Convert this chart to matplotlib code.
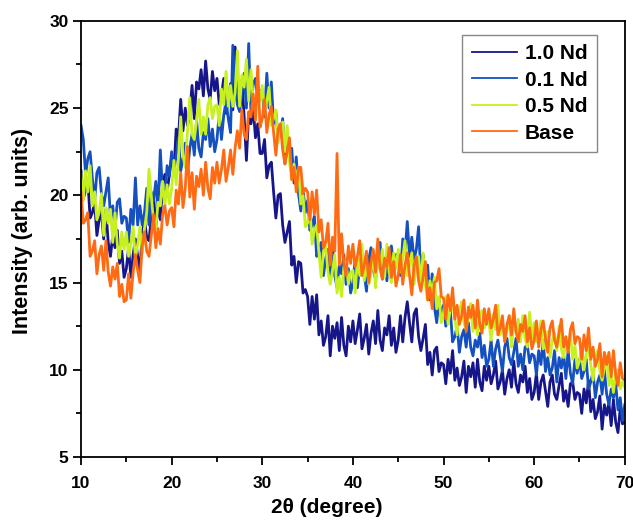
import numpy as np
import matplotlib.pyplot as plt

plt.rcParams['font.family'] = ['Liberation Sans', 'DejaVu Sans']
plt.rcParams['font.weight'] = 'bold'

# 2theta grid, 0.25 degree step (10 .. 70)
two_theta = np.linspace(10, 70, 241)

# one row = 5 degrees
nd_10 = [21.4, 19.8, 20.3, 20.9, 18.7, 19.0, 19.6, 17.7, 18.6, 19.1, 17.5, 19.2, 17.3, 16.5, 17.7, 17.0, 18.0, 16.1, 16.8, 15.3,
         15.8, 17.0, 15.3, 16.6, 17.5, 16.5, 15.7, 17.8, 18.6, 17.6, 17.4, 18.7, 20.0, 18.2, 19.4, 18.6, 20.6, 21.2, 20.2, 21.2,
         22.2, 21.4, 23.8, 23.3, 25.5, 23.7, 25.0, 24.0, 24.7, 26.3, 24.4, 26.5, 26.1, 27.2, 25.7, 27.7, 26.1, 25.5, 27.1, 26.0,
         26.7, 25.2, 25.8, 26.7, 24.7, 25.4, 26.4, 24.9, 28.5, 26.8, 25.1, 26.6, 24.5, 22.0, 24.7, 24.1, 25.0, 23.3, 24.1, 22.4,
         22.4, 23.2, 21.0, 21.7, 21.9, 20.2, 18.7, 20.0, 20.1, 18.3, 17.3, 17.9, 18.5, 16.0, 16.5, 15.0, 16.2, 16.1, 14.4, 14.6,
         14.2, 12.6, 14.2, 12.9, 14.3, 12.0, 12.8, 11.4, 11.9, 13.1, 10.8, 12.5, 11.8, 12.7, 11.1, 13.0, 11.4, 10.8, 12.5, 11.6,
         12.8, 11.5, 12.3, 13.2, 11.2, 11.8, 12.6, 10.9, 12.1, 12.8, 11.5, 13.4, 11.7, 11.1, 12.4, 12.0, 13.1, 11.4, 12.4, 11.0,
         11.7, 13.1, 11.6, 13.0, 13.9, 12.7, 11.6, 13.2, 13.5, 11.9, 11.1, 11.8, 12.6, 10.3, 11.0, 9.7, 11.1, 11.3, 9.9, 10.4,
         10.3, 9.2, 10.6, 9.8, 11.1, 9.4, 10.1, 9.1, 9.6, 10.5, 8.7, 10.2, 9.6, 10.4, 9.0, 10.6, 9.3, 8.8, 10.2, 9.4,
         10.2, 9.2, 9.7, 10.5, 8.9, 9.3, 10.0, 8.6, 9.5, 10.0, 9.0, 10.5, 9.2, 8.7, 9.7, 9.3, 10.2, 8.7, 9.5, 8.3,
         8.7, 9.8, 8.3, 9.3, 9.7, 8.8, 7.9, 9.3, 9.7, 8.6, 8.3, 9.1, 9.8, 8.2, 8.8, 7.9, 9.2, 9.3, 8.3, 8.7,
         8.6, 7.5, 8.9, 8.1, 9.4, 7.6, 8.3, 7.2, 7.6, 8.5, 6.6, 8.0, 7.4, 8.1, 6.8, 8.3, 7.0, 6.4, 7.8, 6.9,
         7.0]

nd_01 = [24.0, 23.2, 21.2, 22.1, 22.5, 21.0, 19.7, 21.3, 21.6, 20.1, 19.4, 20.2, 21.0, 18.7, 19.4, 18.1, 19.6, 19.8, 18.4, 18.8,
         18.7, 17.3, 19.2, 18.3, 21.0, 18.3, 19.4, 18.3, 19.0, 20.4, 18.3, 20.2, 19.7, 20.8, 19.3, 22.6, 20.1, 19.8, 21.7, 21.1,
         22.5, 21.4, 22.3, 23.3, 21.4, 22.1, 23.0, 21.4, 22.7, 23.5, 22.3, 24.3, 22.7, 22.2, 23.6, 23.2, 24.4, 22.8, 23.8, 22.5,
         23.2, 24.7, 23.2, 24.6, 25.4, 24.4, 23.6, 28.6, 26.3, 25.2, 24.8, 25.9, 27.0, 25.0, 28.7, 24.8, 26.4, 26.7, 25.4, 26.0,
         26.0, 24.5, 27.0, 25.0, 26.5, 24.1, 24.8, 23.2, 23.5, 24.4, 21.8, 23.2, 22.1, 22.7, 20.7, 22.2, 20.1, 19.1, 20.4, 19.0,
         19.7, 18.0, 18.3, 18.8, 16.5, 16.8, 17.3, 15.4, 16.4, 16.9, 15.4, 17.2, 15.4, 14.7, 16.0, 15.5, 16.6, 14.9, 15.8, 14.4,
         15.0, 16.3, 14.7, 15.9, 16.6, 15.5, 14.5, 16.3, 17.0, 15.7, 15.2, 16.3, 17.3, 15.2, 16.2, 15.1, 16.7, 17.1, 15.9, 16.6,
         16.6, 15.4, 17.5, 16.7, 18.5, 16.5, 17.6, 16.3, 16.9, 18.2, 15.4, 16.6, 15.4, 16.0, 14.0, 15.5, 13.6, 12.7, 14.1, 13.0,
         13.7, 12.5, 12.8, 13.4, 11.6, 11.9, 12.5, 11.0, 11.9, 12.3, 11.3, 12.7, 11.3, 10.8, 11.7, 11.3, 12.1, 10.7, 11.4, 10.2,
         10.6, 11.7, 10.2, 11.2, 11.7, 10.8, 9.9, 11.3, 11.8, 10.7, 10.3, 11.0, 11.8, 10.2, 10.9, 10.0, 11.3, 11.4, 10.4, 10.9,
         10.8, 9.7, 11.1, 10.3, 11.7, 9.9, 10.7, 9.7, 10.1, 11.1, 9.3, 10.7, 10.1, 10.9, 9.5, 11.1, 9.8, 9.2, 10.6, 9.8,
         10.6, 9.5, 9.9, 10.6, 8.9, 9.3, 9.9, 8.4, 9.3, 9.7, 8.6, 10.0, 8.6, 8.0, 8.9, 8.4, 9.2, 7.7, 8.4, 7.1,
         8.0]

nd_05 = [21.2, 19.7, 21.4, 20.2, 21.7, 19.4, 20.2, 18.6, 19.0, 20.1, 17.7, 19.3, 18.4, 19.2, 17.3, 19.0, 17.2, 16.4, 17.9, 16.9,
         17.9, 16.5, 17.2, 18.2, 16.4, 17.2, 18.2, 16.7, 18.1, 19.0, 21.5, 20.0, 18.5, 18.1, 19.6, 19.4, 20.8, 19.4, 20.6, 19.5,
         20.4, 22.0, 20.6, 22.1, 24.5, 22.3, 21.6, 23.7, 25.6, 23.5, 23.2, 24.3, 25.5, 23.5, 24.5, 23.5, 25.2, 25.6, 24.4, 25.1,
         25.2, 24.0, 26.1, 25.2, 27.1, 25.1, 26.3, 25.1, 25.9, 28.3, 25.1, 26.9, 26.2, 27.8, 25.4, 27.2, 25.5, 24.8, 26.4, 25.4,
         26.3, 24.9, 25.4, 26.2, 24.0, 24.4, 24.9, 23.0, 23.9, 24.2, 22.5, 24.0, 21.9, 20.9, 21.8, 20.9, 21.6, 19.5, 20.0, 18.2,
         18.4, 19.3, 17.2, 18.0, 18.3, 16.7, 15.3, 16.8, 17.1, 15.6, 14.9, 15.7, 16.6, 14.4, 15.3, 14.2, 15.9, 16.2, 14.9, 15.6,
         15.7, 14.4, 16.4, 15.4, 17.2, 15.1, 16.1, 14.9, 15.5, 16.8, 14.7, 16.5, 15.8, 16.9, 15.3, 17.2, 15.6, 15.0, 16.7, 15.8,
         16.9, 15.6, 16.4, 17.4, 15.4, 16.0, 16.7, 14.9, 16.0, 16.5, 15.0, 16.7, 14.8, 14.0, 15.1, 14.4, 15.3, 13.5, 14.2, 12.7,
         13.3, 14.2, 12.6, 13.5, 13.9, 12.9, 12.0, 13.4, 13.9, 12.7, 12.3, 13.1, 13.8, 12.2, 12.9, 12.0, 13.2, 13.4, 12.4, 12.9,
         12.8, 11.7, 13.2, 12.3, 13.7, 12.0, 12.7, 11.7, 12.2, 13.1, 11.3, 12.8, 12.1, 12.9, 11.6, 13.1, 11.8, 11.3, 13.3, 11.8,
         12.7, 11.6, 12.1, 12.8, 11.2, 11.5, 12.2, 10.7, 11.7, 12.1, 11.1, 12.5, 11.2, 10.7, 11.6, 11.2, 12.1, 10.6, 11.4, 10.1,
         10.5, 11.5, 10.0, 10.9, 11.3, 10.3, 9.4, 10.7, 11.1, 9.9, 9.4, 10.1, 10.8, 9.1, 9.7, 8.7, 9.9, 10.0, 8.9, 9.3,
         9.0]

base = [20.2, 18.4, 18.6, 19.0, 16.5, 16.8, 17.4, 15.5, 16.6, 17.1, 15.7, 17.4, 15.6, 14.8, 15.9, 15.2, 16.1, 14.2, 14.9, 13.9,
        14.0, 15.5, 14.1, 15.6, 16.6, 15.7, 15.0, 17.1, 17.9, 16.8, 16.5, 17.7, 18.9, 17.0, 18.1, 17.2, 18.9, 19.4, 18.3, 19.1,
        19.3, 18.2, 20.3, 19.5, 21.3, 19.3, 20.4, 22.8, 19.9, 21.3, 19.2, 21.1, 20.5, 21.5, 20.0, 21.9, 20.4, 19.8, 21.6, 20.7,
        21.9, 20.7, 21.5, 22.6, 20.8, 21.6, 22.6, 21.2, 22.7, 23.7, 22.7, 24.9, 23.5, 23.2, 24.8, 24.5, 25.8, 24.3, 27.4, 23.9,
        24.4, 25.5, 23.6, 24.6, 25.1, 23.6, 22.3, 23.8, 24.1, 22.6, 21.8, 22.5, 23.3, 20.9, 21.6, 20.2, 21.6, 21.6, 20.1, 20.4,
        20.2, 18.6, 20.2, 18.9, 20.3, 17.9, 18.6, 17.0, 17.3, 18.4, 16.0, 17.6, 16.8, 22.4, 16.0, 17.8, 16.1, 15.4, 17.1, 16.1,
        17.2, 15.9, 16.5, 17.4, 15.4, 16.0, 16.8, 15.0, 16.2, 16.9, 15.6, 17.5, 15.8, 15.2, 16.4, 15.9, 17.0, 15.3, 16.2, 14.8,
        15.4, 16.6, 14.9, 16.0, 16.7, 15.4, 14.3, 16.0, 16.5, 15.1, 14.5, 15.3, 16.2, 14.0, 14.7, 13.5, 15.0, 15.1, 15.8, 14.2,
        14.1, 12.9, 14.3, 13.4, 14.7, 12.9, 13.7, 12.6, 13.1, 14.0, 12.2, 13.6, 13.0, 13.7, 12.4, 14.0, 12.6, 12.1, 13.5, 12.6,
        13.5, 12.4, 12.9, 13.7, 12.0, 12.4, 13.1, 11.6, 12.6, 13.1, 12.0, 13.5, 12.2, 11.6, 12.6, 12.2, 13.1, 11.6, 12.4, 11.2,
        11.7, 12.8, 11.3, 12.3, 12.8, 11.8, 11.0, 12.4, 12.8, 11.7, 11.3, 12.1, 12.9, 11.3, 11.9, 11.0, 12.3, 12.7, 11.5, 11.9,
        11.8, 10.6, 12.0, 11.1, 12.4, 10.6, 11.3, 10.2, 10.6, 11.5, 9.6, 11.0, 10.3, 11.0, 9.6, 11.1, 9.7, 9.1, 10.4, 9.5,
        9.4]

labels = ['1.0 Nd', '0.1 Nd', '0.5 Nd', 'Base']
colors = ['#16168a', '#1450c0', '#c6f01e', '#ff6a12']

fig = plt.figure(figsize=(6.33, 5.22), dpi=100)
ax = fig.add_axes([0.128, 0.1245, 0.859, 0.8355])

for y, lab, c in zip([nd_10, nd_01, nd_05, base], labels, colors):
    ax.plot(two_theta, y, color=c, lw=2.0, label=lab)

ax.set_xlim(10, 70)
ax.set_ylim(5, 30)
ax.set_xticks(np.arange(10, 71, 10))
ax.set_xticks(np.arange(15, 70, 10), minor=True)
ax.set_yticks(np.arange(5, 31, 5))
ax.set_yticks(np.arange(7.5, 30, 5), minor=True)
ax.tick_params(which='major', direction='out', length=5.5, width=1.3, labelsize=12.5)
ax.tick_params(which='minor', direction='out', length=3.5, width=1.3)
ax.tick_params(axis='x', which='major', pad=8)
for s in ax.spines.values():
    s.set_linewidth(1.3)

ax.set_xlabel('2θ (degree)', fontsize=15, fontweight='bold')
ax.set_ylabel('Intensity (arb. units)', fontsize=15.5, fontweight='bold')
ax.xaxis.set_label_coords(0.452, -0.094)
ax.yaxis.set_label_coords(-0.088, 0.518)

leg = ax.legend(loc='upper right', bbox_to_anchor=(0.9485, 0.968), fontsize=15,
                fancybox=False, edgecolor='#888888', framealpha=1,
                handlelength=2.2, handletextpad=0.35, borderpad=0.45,
                labelspacing=0.36, borderaxespad=0)
leg.get_frame().set_linewidth(1.0)
for line in leg.get_lines():
    line.set_linewidth(1.3)

plt.savefig('out.png', dpi=100)
